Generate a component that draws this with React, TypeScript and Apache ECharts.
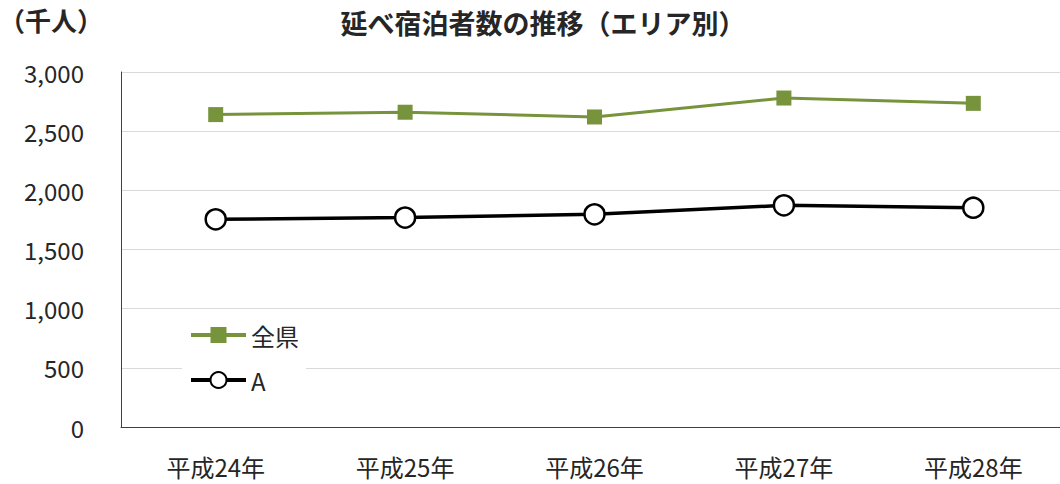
import React, { useEffect, useRef } from "react";
import * as echarts from "echarts";

const categories = ["平成24年", "平成25年", "平成26年", "平成27年", "平成28年"];
const zenken = [2640, 2660, 2620, 2780, 2735];
const areaA = [1755, 1770, 1797, 1873, 1853];
const yTicks = { min: 0, max: 3000, interval: 500 };
const title = "延べ宿泊者数の推移（エリア別）";
const unit = "（千人）";

const FONT = "'Noto Sans CJK JP', 'Noto Sans', sans-serif";

export default function App() {
  const ref = useRef<HTMLDivElement>(null);
  useEffect(() => {
    if (!ref.current) return;
    const chart = echarts.init(ref.current, null, { renderer: "svg" });
    chart.setOption({
      animation: false,
      backgroundColor: "#fff",
      textStyle: { fontFamily: FONT },
      graphic: [
        {
          type: "text",
          left: -1,
          top: 6,
          style: { text: unit, font: `bold 26px ${FONT}`, fill: "#262626" },
        },
        {
          type: "text",
          x: 543,
          y: 22,
          style: {
            text: title,
            font: `bold 27px ${FONT}`,
            fill: "#262626",
            align: "center",
            verticalAlign: "middle",
          },
        },
      ],
      grid: { left: 121, top: 72, width: 947, bottom: 57, containLabel: false },
      legend: {
        orient: "vertical",
        left: 182,
        top: 313,
        padding: [10, 7, 10, 7],
        backgroundColor: "#fff",
        itemWidth: 55,
        itemHeight: 20,
        itemGap: 21,
        lineStyle: { width: 4 },
        textStyle: { fontSize: 24, lineHeight: 24, color: "#262626", fontFamily: FONT },
        data: ["全県", "A"],
      },
      xAxis: {
        type: "category",
        data: categories,
        boundaryGap: true,
        axisLine: { lineStyle: { color: "#404040", width: 1 } },
        axisTick: { show: false },
        axisLabel: { fontSize: 24, lineHeight: 24, color: "#262626", margin: 27, fontFamily: FONT },
        splitLine: { show: false },
      },
      yAxis: {
        type: "value",
        min: yTicks.min,
        max: yTicks.max,
        interval: yTicks.interval,
        axisLine: { show: true, lineStyle: { color: "#404040", width: 1 } },
        axisTick: { show: false },
        axisLabel: {
          fontSize: 24,
          color: "#262626",
          margin: 37,
          fontFamily: FONT,
          formatter: (v: number) => v.toLocaleString("en-US"),
        },
        splitLine: { lineStyle: { color: "#d9d9d9", width: 1 } },
      },
      series: [
        {
          name: "全県",
          type: "line",
          data: zenken,
          symbol: "rect",
          symbolSize: 15,
          lineStyle: { color: "#77933C", width: 3 },
          itemStyle: { color: "#77933C" },
          z: 3,
        },
        {
          name: "A",
          type: "line",
          data: areaA,
          symbol: "circle",
          symbolSize: 20,
          lineStyle: { color: "#000", width: 3.5 },
          itemStyle: { color: "#fff", borderColor: "#000", borderWidth: 2.5 },
          z: 3,
        },
      ],
    });
    return () => chart.dispose();
  }, []);
  return (
    <div
      style={{
        position: "absolute",
        left: 0,
        top: 0,
        width: 1060,
        height: 484,
        overflow: "hidden",
      }}
    >
      <div ref={ref} style={{ width: 1080, height: 484 }} />
    </div>
  );
}
